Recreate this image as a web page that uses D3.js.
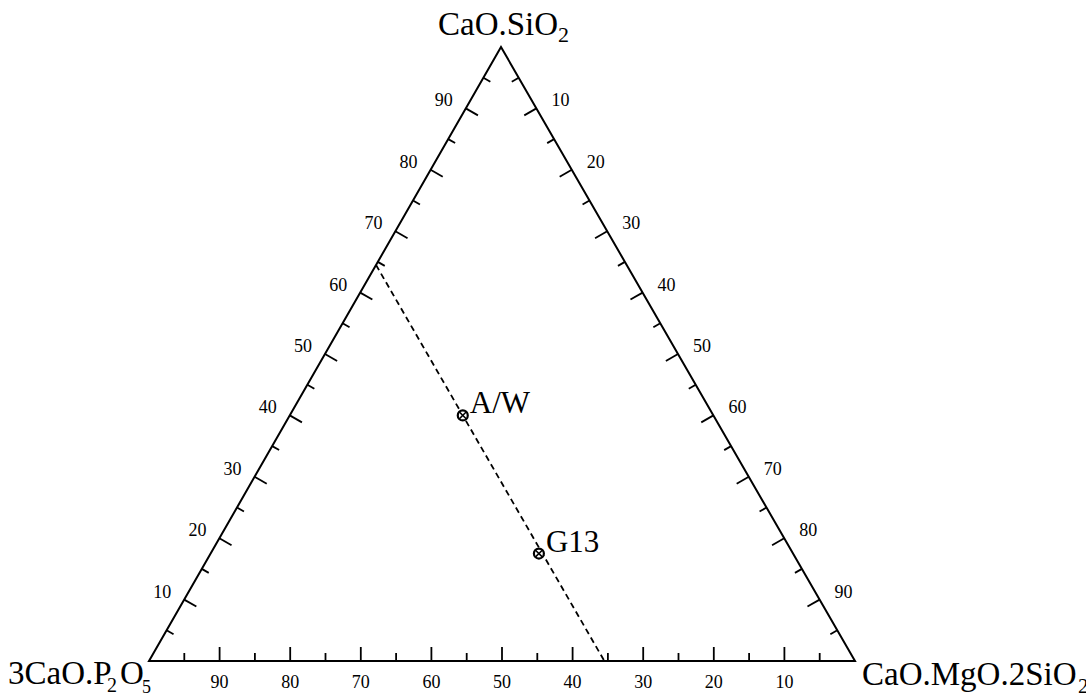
<!DOCTYPE html>
<html>
<head>
<meta charset="utf-8">
<script src="https://cdn.jsdelivr.net/npm/d3@7"></script>
<style>
  html, body { margin: 0; padding: 0; background: #fff; }
  svg { display: block; }
  text { font-family: "Liberation Serif", "Times New Roman", serif; fill: #000; }
</style>
</head>
<body>
<svg id="chart" width="1086" height="695"></svg>
<script>
// ---- data ----
const vertexNames = ["3CaO.P2O5", "CaO.MgO.2SiO2", "CaO.SiO2"];
const majorTicks = [10, 20, 30, 40, 50, 60, 70, 80, 90];
const minorTicks = [5, 15, 25, 35, 45, 55, 65, 75, 85, 95];
const pointNames = ["A/W", "G13"];
const pointP = [35.5, 36];     // 3CaO.P2O5 %
const pointW = [40, 17.5];     // CaO.SiO2 %
const pointM = [24.5, 46.5];   // CaO.MgO.2SiO2 %
const tieLineP = 35.5;         // constant 3CaO.P2O5 line

// ---- layout ----
const svg = d3.select("#chart");
const L = [149, 661], R = [855, 661], T = [501, 47];
const frac = d3.scaleLinear().domain([0, 100]).range([0, 1]);
const C = [(L[0] + R[0] + T[0]) / 3, (L[1] + R[1] + T[1]) / 3];

function proj(p, w, m) {
  const s = p + w + m;
  const a = p / s, b = m / s, c = w / s;
  return [a * L[0] + b * R[0] + c * T[0], a * L[1] + b * R[1] + c * T[1]];
}
function along(A, B, v) {
  const f = frac(v);
  return [A[0] + f * (B[0] - A[0]), A[1] + f * (B[1] - A[1])];
}
function inwardNormal(A, B) {
  const dx = B[0] - A[0], dy = B[1] - A[1];
  const len = Math.hypot(dx, dy);
  let n = [-dy / len, dx / len];
  const mx = (A[0] + B[0]) / 2, my = (A[1] + B[1]) / 2;
  if ((C[0] - mx) * n[0] + (C[1] - my) * n[1] < 0) n = [-n[0], -n[1]];
  return n;
}

// triangle outline
svg.append("path")
  .attr("d", d3.line()([L, R, T, L]) + "Z")
  .attr("fill", "none").attr("stroke", "#000").attr("stroke-width", 2)
  .attr("stroke-linejoin", "miter");

const sides = [
  { A: L, B: T, label: v => v, off: [-22, -8] },        // CaO.SiO2
  { A: T, B: R, label: v => v, off: [24, -8] },         // CaO.MgO.2SiO2
  { A: L, B: R, label: v => 100 - v, off: [0, 21] }     // 3CaO.P2O5
];

const gTicks = svg.append("g");
sides.forEach(s => {
  const n = inwardNormal(s.A, s.B);
  const all = majorTicks.map(v => ({ v, len: 14 })).concat(minorTicks.map(v => ({ v, len: 8 })));
  all.forEach(t => {
    const p = along(s.A, s.B, t.v);
    gTicks.append("line")
      .attr("x1", p[0]).attr("y1", p[1])
      .attr("x2", p[0] + n[0] * t.len).attr("y2", p[1] + n[1] * t.len)
      .attr("stroke", "#000").attr("stroke-width", 1.8);
  });
  majorTicks.forEach(v => {
    const p = along(s.A, s.B, v);
    gTicks.append("text")
      .attr("x", p[0] + s.off[0]).attr("y", p[1] + s.off[1])
      .attr("text-anchor", "middle").attr("dominant-baseline", "central")
      .attr("font-size", 18)
      .text(s.label(v));
  });
});

// tie line (constant 3CaO.P2O5)
const tieStart = proj(tieLineP, 100 - tieLineP, 0);
const tieEnd = proj(tieLineP, 0, 100 - tieLineP);
svg.append("path")
  .attr("d", d3.line()([tieStart, tieEnd]))
  .attr("fill", "none").attr("stroke", "#000").attr("stroke-width", 1.8)
  .attr("stroke-dasharray", "6,4");

// points
const pts = pointNames.map((name, i) => ({ name, xy: proj(pointP[i], pointW[i], pointM[i]) }));
const gp = svg.append("g");
pts.forEach(d => {
  const [x, y] = d.xy, r = 5, k = r * 0.72;
  gp.append("circle").attr("cx", x).attr("cy", y).attr("r", r)
    .attr("fill", "#fff").attr("stroke", "#000").attr("stroke-width", 2.2);
  gp.append("line").attr("x1", x - k).attr("y1", y - k).attr("x2", x + k).attr("y2", y + k)
    .attr("stroke", "#000").attr("stroke-width", 1.6);
  gp.append("line").attr("x1", x - k).attr("y1", y + k).attr("x2", x + k).attr("y2", y - k)
    .attr("stroke", "#000").attr("stroke-width", 1.6);
  gp.append("text").attr("x", x + 7).attr("y", y - 2)
    .attr("font-size", 31).text(d.name);
});

// vertex labels with subscripts
function subParts(name) {
  const parts = [];
  const re = /([A-Za-z])(\d)/g;
  let last = 0, m;
  while ((m = re.exec(name)) !== null) {
    parts.push([name.slice(last, m.index + 1), false]);
    parts.push([m[2], true]);
    last = m.index + 2;
  }
  if (last < name.length) parts.push([name.slice(last), false]);
  return parts;
}

// top: CaO.SiO2
(function () {
  const t = svg.append("text").attr("x", 438).attr("y", 35).attr("font-size", 33);
  const parts = subParts(vertexNames[2]);
  t.append("tspan").text(parts[0][0]);
  t.append("tspan").attr("x", 558).attr("y", 42).attr("font-size", 22).text(parts[1][0]);
})();

// right: CaO.MgO.2SiO2
(function () {
  const t = svg.append("text").attr("x", 862).attr("y", 685).attr("font-size", 33);
  const parts = subParts(vertexNames[1]);
  t.append("tspan").text(parts[0][0]);
  t.append("tspan").attr("x", 1078).attr("y", 693).attr("font-size", 21).text(parts[1][0]);
})();

// left: 3CaO.P2O5
(function () {
  const t = svg.append("text").attr("x", 8).attr("y", 684).attr("font-size", 33);
  const parts = subParts(vertexNames[0]);
  t.append("tspan").text(parts[0][0]);
  t.append("tspan").attr("x", 107).attr("y", 692).attr("font-size", 20).text(parts[1][0]);
  t.append("tspan").attr("x", 120).attr("y", 684).attr("font-size", 33).text(parts[2][0]);
  t.append("tspan").attr("x", 142).attr("y", 693).attr("font-size", 18).text(parts[3][0]);
})();
</script>
</body>
</html>
